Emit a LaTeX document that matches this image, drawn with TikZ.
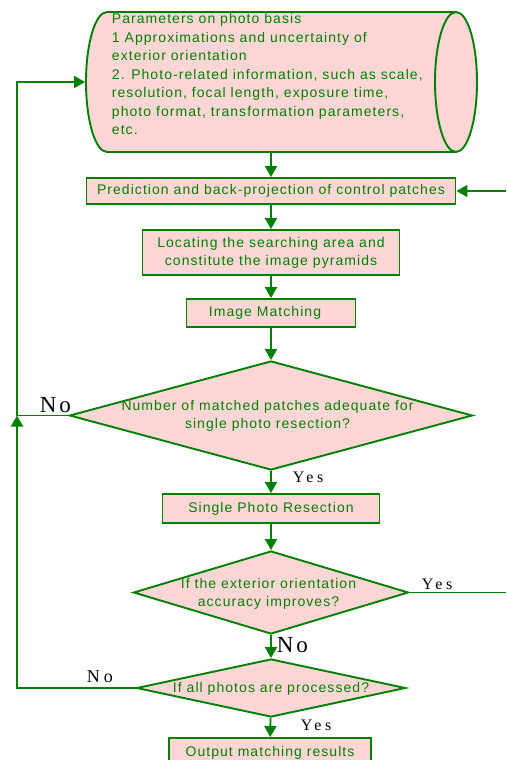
\documentclass[tikz,border=0pt]{standalone}
\usepackage{fontspec}
\setmainfont{Liberation Sans}
\newfontfamily\lab[LetterSpace=7.5]{Liberation Sans}
\newfontfamily\ser[LetterSpace=12]{Liberation Serif}
\newfontfamily\serw[LetterSpace=22]{Liberation Serif}
\usetikzlibrary{shapes.geometric,arrows.meta}
\definecolor{fg}{RGB}{0,128,0}
\definecolor{bg}{RGB}{255,214,214}
\begin{document}
\begin{tikzpicture}[x=1pt,y=-1pt,line width=1.9pt,
  box/.style={draw=fg,fill=bg,inner sep=0pt,text=fg,align=center,
    font=\lab\fontsize{14}{18}\selectfont},
  dia/.style={draw=fg,fill=bg,shape=diamond,inner sep=0pt},
  txt/.style={text=fg,align=center,inner sep=0pt,font=\lab\fontsize{14}{18}\selectfont},
  arr/.style={draw=fg,-{Triangle[length=11pt,width=12pt]}},
  ln/.style={draw=fg},
  yn/.style={inner sep=0pt,text=black,anchor=base west},
]
\useasboundingbox (0,0) rectangle (506,760);
\clip (0,0) rectangle (506,760);
% cylinder
\node[inner sep=0pt,minimum width=391pt,minimum height=140pt] (cyl) at (281.5,82) {};
\path[draw=fg,fill=bg] (456,12) -- (107,12)
  arc[start angle=90,end angle=270,x radius=21pt,y radius=70pt]
  -- (456,152) arc[start angle=-90,end angle=90,x radius=21pt,y radius=70pt] -- cycle;
\draw[fg] (456,12) arc[start angle=90,end angle=270,x radius=21pt,y radius=70pt];
\node[txt,align=left,anchor=north west,font=\lab\fontsize{14}{18.5}\selectfont] (ctext) at (111,12.8)
 {Parameters on photo basis\\
  1 Approximations and uncertainty of\\
  exterior orientation\\
  2. Photo-related information, such as scale,\\
  resolution, focal length, exposure time,\\
  photo format, transformation parameters,\\
  etc.};
% boxes
\node[box,minimum width=369pt,minimum height=26pt] (b1) at (271,191) {Prediction and back-projection of control patches};
\node[box,minimum width=257pt,minimum height=45pt] (b2) at (271,252.5) {Locating the searching area and\\ constitute the image pyramids};
\node[box,minimum width=169pt,minimum height=28pt] (b3) at (271,313) {Image Matching\hspace{12pt}};
\node[dia,minimum width=403pt,minimum height=109pt] (d1) at (271,415.5) {};
\node[txt] (d1t) at (267.5,416) {Number of matched patches adequate for\\ single photo resection?};
\node[box,minimum width=217pt,minimum height=29pt] (b4) at (271,508.5) {Single Photo Resection};
\node[dia,minimum width=275pt,minimum height=83pt] (d2) at (271,592.5) {};
\node[txt] (d2t) at (268.5,594) {If the exterior orientation\\ accuracy improves?};
\node[dia,minimum width=269pt,minimum height=58pt] (d3) at (271,688) {};
\node[txt] (d3t) at (271,688.5) {If all photos are processed?};
\node[box,minimum width=202pt,minimum height=30pt] (b5) at (270,753) {Output matching results};
% coordinates
\coordinate (e1) at (506,592.5);
\coordinate (e2) at (506,191);
\coordinate (l1) at (17,688);
\coordinate (l2) at (17,415.5);
\coordinate (l3) at (17,82);
% connectors
\draw[arr] (cyl.south -| b1.north) -- (b1.north);
\draw[arr] (b1) -- (b2);
\draw[arr] (b2) -- (b3);
\draw[arr] (b3) -- (d1);
\draw[arr] (d1) -- (b4);
\draw[arr] (b4) -- (d2);
\draw[arr] (d2) -- (d3);
\draw[arr] (d3) -- (b5);
\draw[ln] (d2.east) -- (e1);
\draw[arr] (e2) -- (b1.east);
\draw[arr] (d3.west) -- (l1) -- (l2);
\draw[ln] (d1.west) -- (l2);
\draw[arr] (l2) -- (l3) -- (cyl.west);
% labels
\node[yn,font=\ser\fontsize{23}{23}\selectfont] (no1) at (39,412.5) {No};
\node[yn,font=\serw\fontsize{16}{16}\selectfont] (yes1) at (292,482.5) {Yes};
\node[yn,font=\serw\fontsize{16}{16}\selectfont] (yes2) at (421,589) {Yes};
\node[yn,font=\ser\fontsize{23}{23}\selectfont] (no2) at (276,652.5) {No};
\node[yn,font=\serw\fontsize{18}{18}\selectfont] (no3) at (86,682.5) {No};
\node[yn,font=\serw\fontsize{16}{16}\selectfont] (yes3) at (300,730.5) {Yes};
\end{tikzpicture}
\end{document}
